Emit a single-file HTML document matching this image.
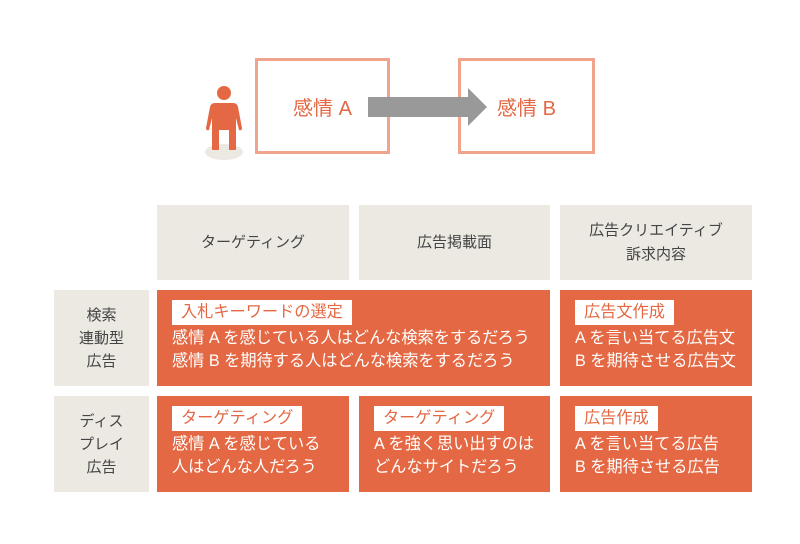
<!DOCTYPE html>
<html><head><meta charset="utf-8"><style>
body{margin:0;width:800px;height:544px;background:#fff;position:relative;overflow:hidden;font-family:"Liberation Sans","Noto Sans CJK JP",sans-serif}
.a{position:absolute;box-sizing:border-box}
.h{background:#ece9e3;color:#444;font-size:15px;display:flex;align-items:center;justify-content:center;text-align:center;line-height:23px}
.o{background:#e36843;color:#fff;font-size:16.2px;line-height:23px;padding:10px 0 0 15px}
.l{display:inline-block;background:#fff;color:#e36843;padding:0 9px;height:25px;line-height:25px;margin-bottom:2px}
.bx{border:3px solid #f0a48c;color:#e36843;font-size:20px;display:flex;align-items:center;justify-content:center}
</style></head><body>
<div class="a" style="left:205px;top:144px;width:38px;height:16px;border-radius:50%;background:#ece9e3"></div>
<svg class="a" style="left:200px;top:84px" width="48" height="70">
<circle cx="24" cy="9" r="7" fill="#e36843"/>
<path d="M15 19 H33 Q37 19 38 23 L42 44 Q42 47 39 46 L36 34 V66 H29 V46 H19 V66 H12 V34 L9 46 Q6 47 6 44 L10 23 Q11 19 15 19Z" fill="#e36843"/>
</svg>
<div class="a bx" style="left:255px;top:58px;width:135px;height:96px">感情 A</div>
<div class="a bx" style="left:458px;top:58px;width:137px;height:96px">感情 B</div>
<svg class="a" style="left:368px;top:86px" width="122" height="42"><path d="M0 11 H100 V2 L119 21 L100 40 V31 H0Z" fill="#999"/></svg>
<div class="a h" style="left:157px;top:205px;width:192px;height:75px">ターゲティング</div>
<div class="a h" style="left:359px;top:205px;width:191px;height:75px">広告掲載面</div>
<div class="a h" style="left:560px;top:205px;width:192px;height:75px;line-height:24px">広告クリエイティブ<br>訴求内容</div>
<div class="a h" style="left:54px;top:290px;width:95px;height:96px">検索<br>連動型<br>広告</div>
<div class="a h" style="left:54px;top:396px;width:95px;height:96px">ディス<br>プレイ<br>広告</div>
<div class="a o" style="left:157px;top:290px;width:393px;height:96px"><span class="l">入札キーワードの選定</span><br>感情 A を感じている人はどんな検索をするだろう<br>感情 B を期待する人はどんな検索をするだろう</div>
<div class="a o" style="left:560px;top:290px;width:192px;height:96px"><span class="l">広告文作成</span><br>A を言い当てる広告文<br>B を期待させる広告文</div>
<div class="a o" style="left:157px;top:396px;width:192px;height:96px"><span class="l">ターゲティング</span><br>感情 A を感じている<br>人はどんな人だろう</div>
<div class="a o" style="left:359px;top:396px;width:191px;height:96px"><span class="l">ターゲティング</span><br>A を強く思い出すのは<br>どんなサイトだろう</div>
<div class="a o" style="left:560px;top:396px;width:192px;height:96px"><span class="l">広告作成</span><br>A を言い当てる広告<br>B を期待させる広告</div>
</body></html>
